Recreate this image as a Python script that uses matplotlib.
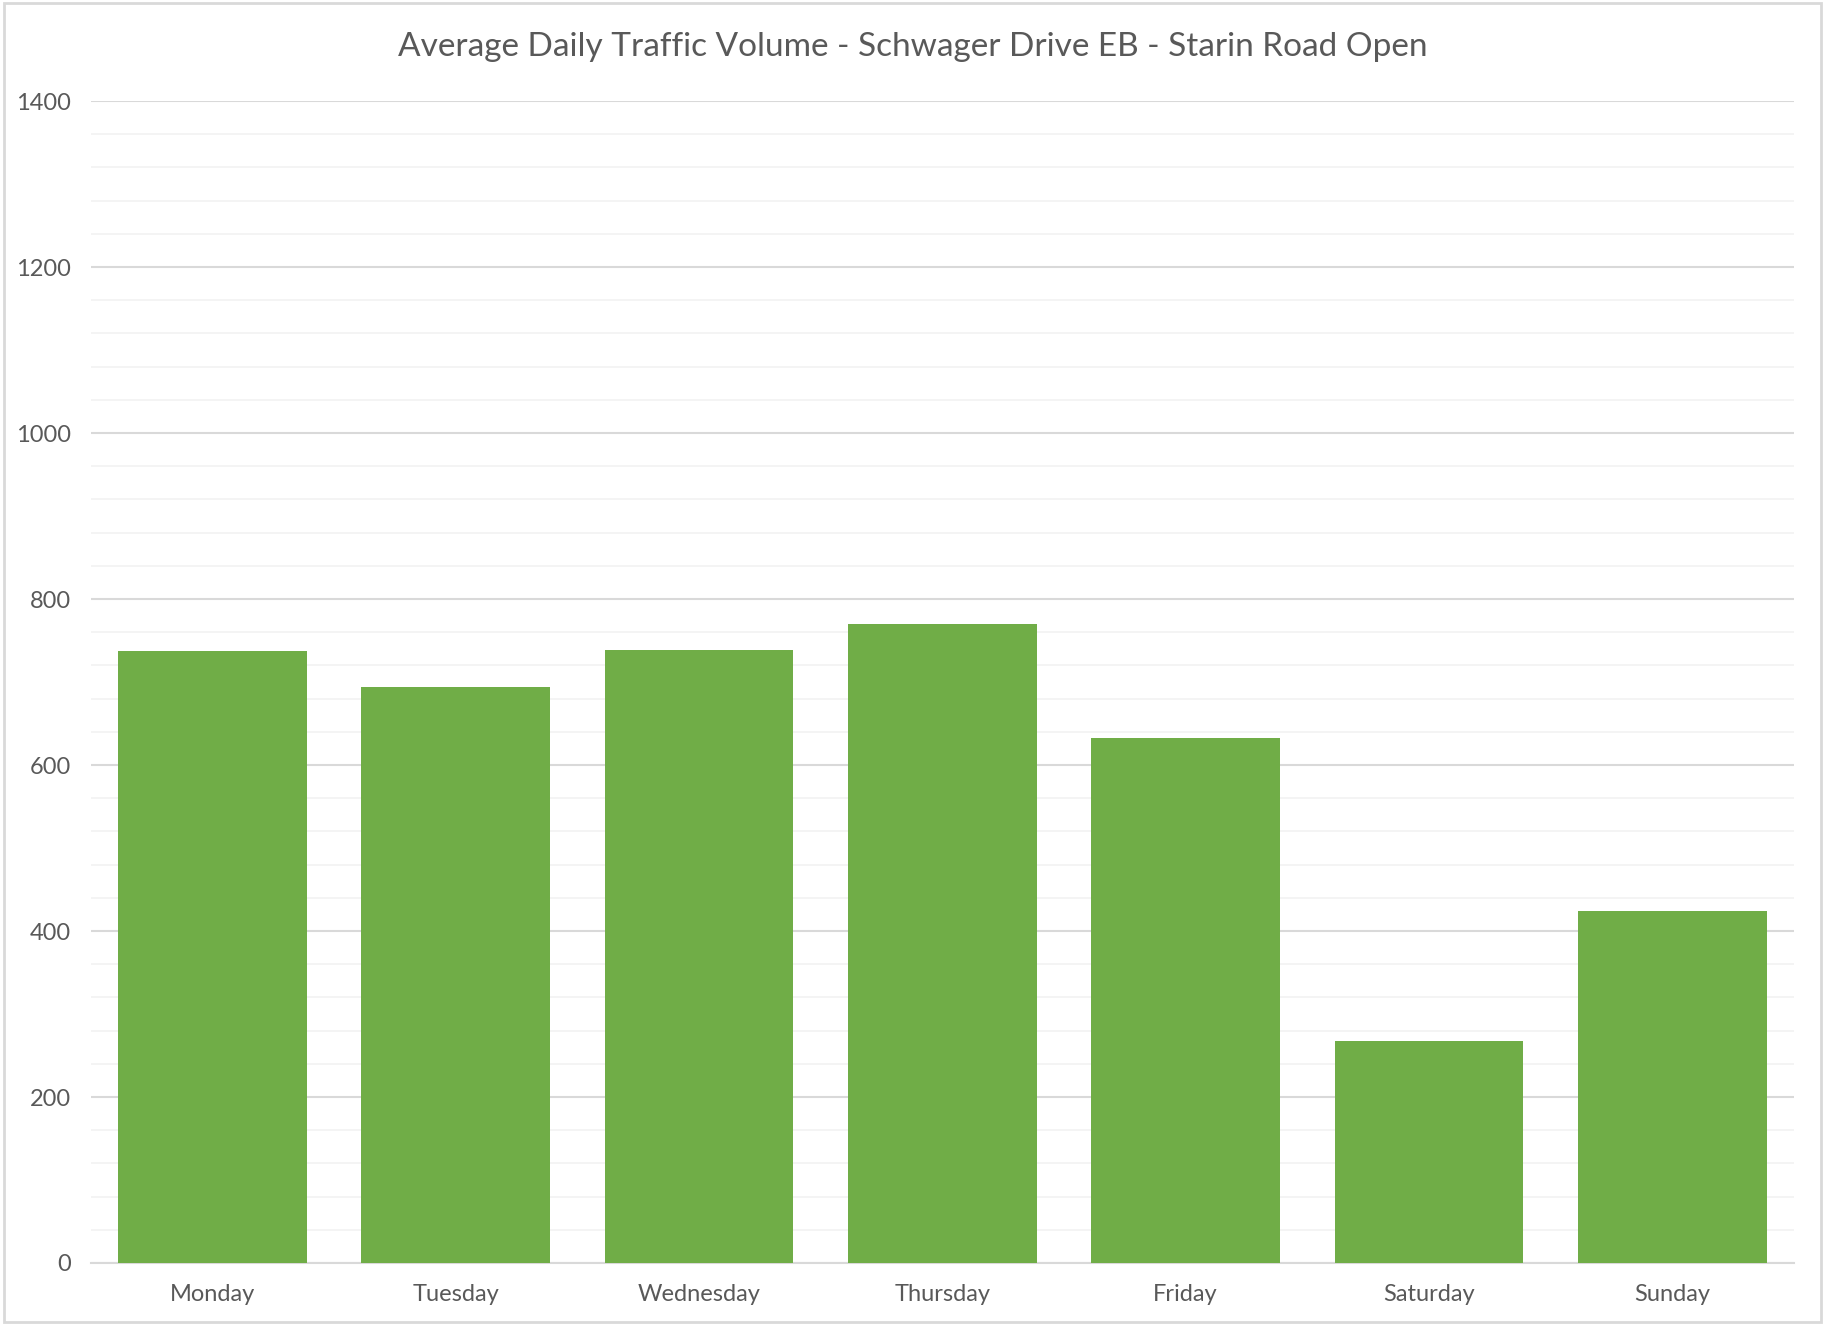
import matplotlib.pyplot as plt
from matplotlib.patches import Rectangle
from matplotlib.ticker import MultipleLocator

# Average daily volumes per weekday
days = ['Monday', 'Tuesday', 'Wednesday', 'Thursday', 'Friday', 'Saturday', 'Sunday']
volumes = [737, 694, 739, 770, 632, 268, 424]

plt.rcParams['font.family'] = ['Lato', 'DejaVu Sans']

fig = plt.figure(figsize=(18.25, 13.25), dpi=100)
ax = fig.add_axes([0.0497, 0.0468, 0.9333, 0.8769])

ax.bar(days, volumes, width=0.775, color='#70ad47', zorder=3)

ax.set_ylim(0, 1400)
ax.set_xlim(-0.5, len(days) - 0.5)
ax.yaxis.set_major_locator(MultipleLocator(200))
ax.yaxis.set_minor_locator(MultipleLocator(40))
ax.grid(axis='y', which='major', color='#d9d9d9', linewidth=1.5, zorder=0)
ax.grid(axis='y', which='minor', color='#f2f2f2', linewidth=1.2, zorder=0)

for side in ['top', 'right', 'left']:
    ax.spines[side].set_visible(False)
ax.spines['bottom'].set_color('#d9d9d9')
ax.spines['bottom'].set_linewidth(1.5)

ax.tick_params(axis='both', which='both', length=0, colors='#595959', labelsize=17)
ax.tick_params(axis='y', pad=14)
ax.tick_params(axis='x', pad=15)

fig.suptitle('Average Daily Traffic Volume - Schwager Drive EB - Starin Road Open',
             y=0.976, fontsize=24, color='#595959')

# light frame round the chart area
fig.patches.append(Rectangle((0.002, 0.002), 0.996, 0.996, transform=fig.transFigure,
                             fill=False, edgecolor='#d9d9d9', linewidth=2))

fig.savefig('out.png', dpi=100)
